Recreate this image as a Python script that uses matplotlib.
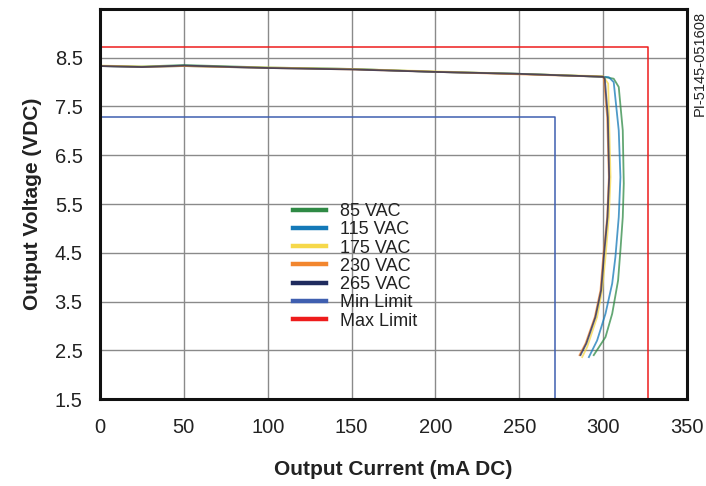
import matplotlib
matplotlib.use("Agg")
import matplotlib.pyplot as plt

plt.rcParams['font.family'] = ['Liberation Sans', 'DejaVu Sans']

# ---- data ----
x_85 = [0, 25, 50, 100, 150, 200, 250, 300, 306.3, 309.3, 311.7, 312.3, 311.7, 310.3, 308.9, 305.4, 301.4, 294.4]
y_85 = [8.33, 8.32, 8.35, 8.30, 8.27, 8.21, 8.17, 8.11, 8.07, 7.90, 7.01, 5.92, 5.23, 4.55, 3.93, 3.25, 2.77, 2.40]

x_115 = [0, 25, 50, 100, 150, 200, 250, 300, 303.4, 306.3, 309.3, 310.3, 309.3, 307.3, 305.4, 301.4, 296.4, 291.5]
y_115 = [8.33, 8.31, 8.33, 8.29, 8.27, 8.21, 8.17, 8.11, 8.10, 8.00, 7.01, 6.05, 5.23, 4.41, 3.87, 3.25, 2.70, 2.36]

x_175 = [0, 25, 50, 100, 150, 200, 250, 300, 303.0, 304.4, 303.4, 301.4, 299.4, 296.4, 290.5, 287.5]
y_175 = [8.34, 8.32, 8.33, 8.30, 8.27, 8.22, 8.17, 8.12, 7.97, 6.05, 5.23, 4.41, 3.73, 3.18, 2.57, 2.36]

x_230 = [0, 25, 50, 100, 150, 200, 250, 300, 300.4, 302.4, 303.4, 302.4, 300.0, 298.4, 295.0, 289.5, 285.9]
y_230 = [8.33, 8.31, 8.33, 8.29, 8.26, 8.21, 8.16, 8.11, 8.07, 7.28, 6.05, 5.23, 4.41, 3.73, 3.18, 2.64, 2.40]

x_265 = [0, 25, 50, 100, 150, 200, 250, 300, 301.0, 302.8, 303.6, 302.6, 300.4, 298.8, 295.4, 290.0, 286.5]
y_265 = [8.33, 8.31, 8.34, 8.29, 8.26, 8.21, 8.17, 8.11, 8.07, 7.28, 6.05, 5.23, 4.41, 3.73, 3.18, 2.64, 2.40]

min_limit_current = 271
min_limit_voltage = 7.28
max_limit_current = 327
max_limit_voltage = 8.72

x_ticks = [0, 50, 100, 150, 200, 250, 300, 350]
y_ticks = [1.5, 2.5, 3.5, 4.5, 5.5, 6.5, 7.5, 8.5]

series = [
    ("85 VAC", x_85, y_85, "#2f8a45"),
    ("115 VAC", x_115, y_115, "#1479b8"),
    ("175 VAC", x_175, y_175, "#f6d84a"),
    ("230 VAC", x_230, y_230, "#f2862e"),
    ("265 VAC", x_265, y_265, "#1f2b5e"),
]

fig = plt.figure(figsize=(7.06, 4.86), dpi=100)
ax = fig.add_axes([100/706, 1-399/486, 587/706, 390/486])

for label, xs, ys, c in series:
    ax.plot(xs, ys, color=c, lw=1.3, alpha=0.75, label=label)

ax.plot([0, min_limit_current, min_limit_current], [min_limit_voltage, min_limit_voltage, 1.5],
        color="#3f5fb0", lw=1.1, label="Min Limit")
ax.plot([0, max_limit_current, max_limit_current], [max_limit_voltage, max_limit_voltage, 1.5],
        color="#ee1c1c", lw=1.1, label="Max Limit")

ax.set_xlim(0, 350)
ax.set_ylim(1.5, 9.5)
ax.set_xticks(x_ticks)
ax.set_yticks(y_ticks)
ax.set_xticklabels([str(v) for v in x_ticks])
ax.set_yticklabels([f"{v:.1f}" for v in y_ticks])
ax.grid(True, color="#8a8a8a", lw=1.0)
ax.set_axisbelow(True)
ax.tick_params(length=0, labelsize=14.5, colors="#222222")
ax.tick_params(axis='y', pad=12.5)
ax.tick_params(axis='x', pad=14)
for s in ax.spines.values():
    s.set_linewidth(2.2)
    s.set_color("#111111")

ax.set_xlabel("Output Current (mA DC)", fontsize=15, fontweight="bold", labelpad=16, color="#222222")
ax.set_ylabel("Output Voltage (VDC)", fontsize=15, fontweight="bold", labelpad=9, color="#222222")

handles, labels = ax.get_legend_handles_labels()
leg = ax.legend(handles, labels, loc="upper left", bbox_to_anchor=(293/706, 1-203/486),
                bbox_transform=fig.transFigure, frameon=False, fontsize=13,
                handlelength=1.85, handletextpad=0.75, labelspacing=0.07, borderpad=0,
                borderaxespad=0)
for h in leg.get_lines():
    h.set_linewidth(3.2)
    h.set_alpha(1.0)
for t in leg.get_texts():
    t.set_color("#222222")

fig.text(0.991, 1-116/486, "PI-5145-051608", rotation=90, ha="center", va="bottom",
         fontsize=10.5, color="#222222")

fig.savefig("out.png", dpi=100)
